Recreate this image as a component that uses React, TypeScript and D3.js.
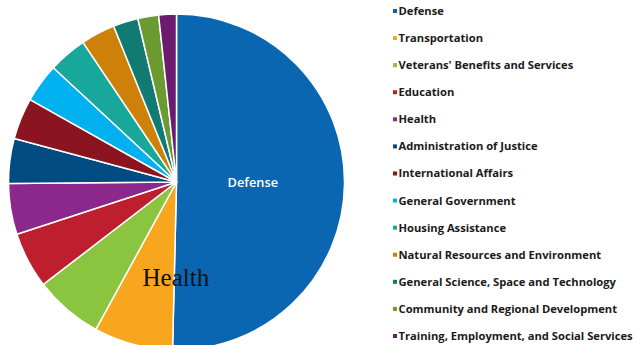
import React from "react";
import * as d3 from "d3";

const categories = [
  "Defense",
  "Transportation",
  "Veterans' Benefits and Services",
  "Education",
  "Health",
  "Administration of Justice",
  "International Affairs",
  "General Government",
  "Housing Assistance",
  "Natural Resources and Environment",
  "General Science, Space and Technology",
  "Community and Regional Development",
  "Training, Employment, and Social Services",
];

const values = [50.4, 7.6, 6.6, 5.4, 4.9, 4.3, 4.0, 3.75, 3.7, 3.3, 2.4, 2.0, 1.7];

const colors = [
  "#0a66b0",
  "#f8a61e",
  "#8bc43f",
  "#bd1f2e",
  "#8c278c",
  "#004b82",
  "#8a1521",
  "#00b0ef",
  "#17a89b",
  "#cd8109",
  "#117a73",
  "#6b9a31",
  "#6c1c6f",
];

const W = 636;
const H = 345;
const cx = 176.5;
const cy = 182;
const R = 168;

export default function App() {
  const data = categories.map((c, i) => ({ name: c, value: values[i], color: colors[i] }));
  const pie = d3
    .pie<any>()
    .sort(null)
    .value((d: any) => d.value)
    .startAngle(0)
    .endAngle(2 * Math.PI);
  const arcs = pie(data);
  const arc = d3.arc<any>().innerRadius(0).outerRadius(R);

  const legendY = d3
    .scalePoint<string>()
    .domain(categories)
    .range([11, 336]);

  const defArc = arcs[0];
  const labelArc = d3.arc<any>().innerRadius(R * 0.46).outerRadius(R * 0.46);
  const [lx, ly] = labelArc.centroid(defArc);

  return (
    <svg
      width={W}
      height={H}
      style={{ position: "absolute", left: 0, top: 0, background: "#fff" }}
    >
      <g transform={`translate(${cx},${cy})`}>
        {arcs.map((a, i) => (
          <path key={i} d={arc(a) || ""} fill={a.data.color} stroke="#fff" strokeWidth={1.5} strokeLinejoin="round" />
        ))}
        <text
          x={lx - 1}
          y={ly}
          dy="0.35em"
          textAnchor="middle"
          fill="#fff"
          fontFamily="Open Sans"
          fontWeight={600}
          fontSize={12.8}
        >
          Defense
        </text>
      </g>
      <text x={142.5} y={286} fontFamily="Liberation Serif" fontSize={25} fill="#111">
        Health
      </text>
      <g>
        {categories.map((c, i) => (
          <g key={c} transform={`translate(393,${legendY(c)})`}>
            <rect x={0} y={-2} width={4} height={4} fill={colors[i]} />
            <text
              x={5.5}
              y={0}
              dy="0.35em"
              fontFamily="Open Sans"
              fontWeight={700}
              fontSize={11.2}
              fill="#1a1a1a"
            >
              {c}
            </text>
          </g>
        ))}
      </g>
    </svg>
  );
}
